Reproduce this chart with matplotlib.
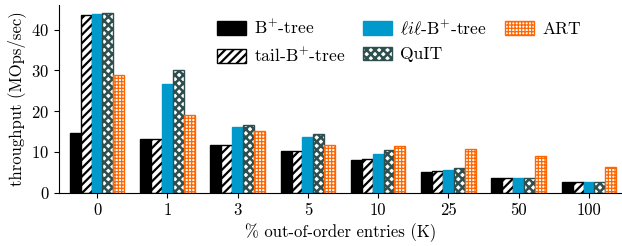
import matplotlib
matplotlib.use("Agg")
import matplotlib.pyplot as plt
import numpy as np

plt.rcParams['font.family'] = 'serif'
plt.rcParams['font.serif'] = ['cmr10']
plt.rcParams['mathtext.fontset'] = 'cm'
plt.rcParams['axes.formatter.use_mathtext'] = True
plt.rcParams['font.size'] = 12
plt.rcParams['hatch.linewidth'] = 1.5

categories = ['0', '1', '3', '5', '10', '25', '50', '100']
bplus = [14.7, 13.2, 11.6, 10.3, 8.0, 5.1, 3.7, 2.55]
tail = [43.7, 13.1, 11.6, 10.3, 8.3, 5.4, 3.7, 2.55]
lil = [43.8, 26.6, 16.2, 13.7, 9.4, 5.5, 3.7, 2.55]
quit_ = [44.0, 30.1, 16.7, 14.5, 10.5, 6.1, 3.6, 2.55]
art = [29.0, 19.1, 15.1, 11.6, 11.4, 10.6, 9.0, 6.3]

labels = ['B$^{+}$-tree', 'tail-B$^{+}$-tree', r'$\ell i \ell$-B$^{+}$-tree', 'QuIT', 'ART']

fig = plt.figure(figsize=(6.22, 2.46), dpi=100)
ax = fig.add_axes([0.095, 0.217, 0.905, 0.763])

x = np.arange(len(categories))
w = 0.155
styles = [
    dict(color='black', edgecolor='black'),
    dict(facecolor='white', edgecolor='black', hatch='////'),
    dict(color='#0099cc', edgecolor='#0099cc'),
    dict(facecolor='white', edgecolor='#2f4f4f', hatch='xxxx'),
    dict(facecolor='white', edgecolor='#ff6600', hatch='+++++'),
]
hlw = [1.5, 1.6, 1.5, 1.8, 0.9]
series = [bplus, tail, lil, quit_, art]
for i, (vals, st, lab) in enumerate(zip(series, styles, labels)):
    bars = ax.bar(x + (i - 2) * w, vals, w, label=lab, linewidth=1.0, **st)
    for b in bars:
        if hasattr(b, 'set_hatch_linewidth'):
            b.set_hatch_linewidth(hlw[i])

ax.set_xticks(x)
ax.set_xticklabels(categories)
ax.set_yticks([0, 10, 20, 30, 40])
ax.set_xlim(-0.54, 7.47)
ax.set_ylim(0, 46.1)
ax.spines['top'].set_visible(False)
ax.spines['right'].set_visible(False)
ax.set_ylabel('throughput (MOps/sec)')
ax.set_xlabel('% out-of-order entries (K)')

h, l = ax.get_legend_handles_labels()
leg = ax.legend(h, l, ncol=3, frameon=False,
          loc='upper left', bbox_to_anchor=(217 / 622, 1 - 18 / 246),
          bbox_transform=fig.transFigure, borderaxespad=0, borderpad=0,
          handlelength=1.65, handleheight=0.8, handletextpad=0.45,
          columnspacing=1.05, labelspacing=0.55, fontsize=12.6)
for i, p in enumerate(leg.get_patches()):
    if hasattr(p, 'set_hatch_linewidth'):
        p.set_hatch_linewidth(hlw[i])

fig.savefig('out.png', dpi=100)
